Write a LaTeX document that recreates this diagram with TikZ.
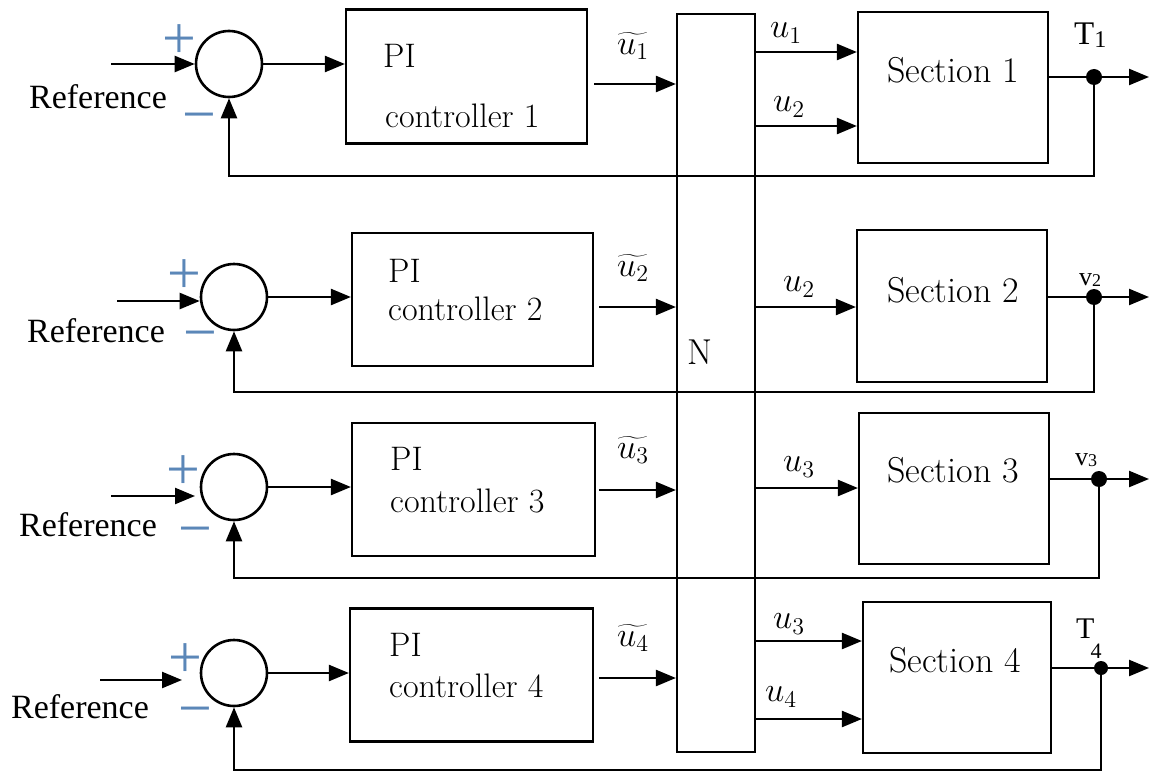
\documentclass[tikz,border=0pt]{standalone}
\usepackage{fontspec}
\newfontfamily\tms{Liberation Serif}
\usetikzlibrary{arrows.meta,calc}
\definecolor{pm}{RGB}{91,135,184}
\begin{document}
\begin{tikzpicture}[x=1pt,y=-1pt,
  box/.style={draw,line width=2.2pt,inner sep=0pt},
  arr/.style={line width=2.4pt,-{Triangle[length=20pt,width=16pt]}},
  sumc/.style={draw,circle,line width=2.6pt,minimum size=66pt,inner sep=0pt},
  dot/.style={fill,circle,inner sep=0pt,minimum size=16pt},
  btxt/.style={font=\fontsize{34}{40}\selectfont,inner sep=0pt,anchor=base west},
  stxt/.style={font=\fontsize{36}{42}\selectfont,inner sep=0pt},
  reftxt/.style={font=\tms\fontsize{34}{40}\selectfont,inner sep=0pt},
  sgn/.style={font=\tms\fontsize{60}{64}\selectfont,text=pm,inner sep=0pt},
  ulab/.style={font=\fontsize{17.28}{20}\selectfont,scale=2.0,inner sep=0pt},
  olab/.style={font=\tms\fontsize{33}{38}\selectfont,inner sep=0pt,anchor=base west},
  vlab/.style={font=\tms\fontsize{26}{30}\selectfont,inner sep=0pt,anchor=base west}
]
\useasboundingbox (0,0) rectangle (1150,773);

% N block
\node[box,minimum width=78pt,minimum height=738pt] (N) at (716,383) {};
\node[stxt] (Nlab) at (700,352) {N};

% PI controller boxes
\node[box,minimum width=241pt,minimum height=134pt] (pi1) at (466.5,76.5) {};
\node[box,minimum width=241pt,minimum height=133pt] (pi2) at (472.5,299.5) {};
\node[box,minimum width=243pt,minimum height=133pt] (pi3) at (473.5,489.5) {};
\node[box,minimum width=243pt,minimum height=133pt] (pi4) at (471.5,675) {};
\node[btxt] (pi1a) at (383,68) {PI};
\node[btxt] (pi1b) at (385,128) {controller 1};
\node[btxt] (pi2a) at (388,282) {PI};
\node[btxt] (pi2b) at (388,320) {controller 2};
\node[btxt] (pi3a) at (390,470) {PI};
\node[btxt] (pi3b) at (390,512) {controller 3};
\node[btxt] (pi4a) at (389,656) {PI};
\node[btxt] (pi4b) at (389,697) {controller 4};

% Section boxes
\node[box,minimum width=190pt,minimum height=151pt] (sec1) at (953,87.5) {};
\node[box,minimum width=190pt,minimum height=152pt] (sec2) at (952,306) {};
\node[box,minimum width=190pt,minimum height=151pt] (sec3) at (954,488.5) {};
\node[box,minimum width=188pt,minimum height=151pt] (sec4) at (957,677.5) {};
\node[stxt] (s1t) at (953,70) {Section 1};
\node[stxt] (s2t) at (953,290) {Section 2};
\node[stxt] (s3t) at (953,470) {Section 3};
\node[stxt] (s4t) at (955,660) {Section 4};

% summing junctions
\node[sumc] (sum1) at (229,64) {};
\node[sumc] (sum2) at (234,297) {};
\node[sumc] (sum3) at (234,487) {};
\node[sumc] (sum4) at (234,673) {};

% signs
\node[sgn] (p1) at (179,42) {+};
\node[sgn] (m1) at (199,124) {−};
\node[sgn] (p2) at (184,277) {+};
\node[sgn] (m2) at (200,342) {−};
\node[sgn] (p3) at (183,473) {+};
\node[sgn] (m3) at (195,538) {−};
\node[sgn] (p4) at (185,661) {+};
\node[sgn] (m4) at (195,718) {−};

% Reference labels
\node[reftxt] (r1) at (98,97) {Reference};
\node[reftxt] (r2) at (96,331) {Reference};
\node[reftxt] (r3) at (88,525) {Reference};
\node[reftxt] (r4) at (80,707) {Reference};

% reference arrows
\coordinate (rs1) at (111,64);
\coordinate (rs2) at (117,301);
\coordinate (rs3) at (111,496);
\coordinate (re3) at (195,496);
\coordinate (rs4) at (100,680);
\coordinate (re4) at (182,680);
\draw[arr] (rs1) -- (sum1.west);
\draw[arr] (rs2) -- (sum2.west |- rs2);
\draw[arr] (rs3) -- (re3);
\draw[arr] (rs4) -- (re4);

% sum -> PI
\draw[arr] (sum1.east) -- (pi1.west |- sum1.east);
\draw[arr] (sum2.east) -- (pi2.west |- sum2.east);
\draw[arr] (sum3.east) -- (pi3.west |- sum3.east);
\draw[arr] (sum4.east) -- (pi4.west |- sum4.east);

% PI -> N
\draw[arr] ([xshift=6pt]pi1.east |- 0,84) -- (N.west |- 0,84);
\draw[arr] ([xshift=5pt]pi2.east |- 0,307) -- (N.west |- 0,307);
\draw[arr] ([xshift=3pt]pi3.east |- 0,490) -- (N.west |- 0,490);
\draw[arr] ([xshift=5pt]pi4.east |- 0,678) -- (N.west |- 0,678);
\node[ulab] (ut1) at (633,46) {$\widetilde{u_1}$};
\node[ulab] (ut2) at (633,268) {$\widetilde{u_2}$};
\node[ulab] (ut3) at (633,450) {$\widetilde{u_3}$};
\node[ulab] (ut4) at (633,638) {$\widetilde{u_4}$};

% N -> sections
\draw[arr] (N.east |- 0,52) -- (sec1.west |- 0,52);
\draw[arr] (N.east |- 0,126) -- (sec1.west |- 0,126);
\draw[arr] (N.east |- 0,307) -- (sec2.west |- 0,307);
\draw[arr] (N.east |- 0,488) -- (sec3.west |- 0,488);
\draw[arr] (N.east |- 0,641) -- (sec4.west |- 0,641);
\draw[arr] (N.east |- 0,719) -- (sec4.west |- 0,719);
\node[ulab] (ua) at (786,33) {$u_1$};
\node[ulab] (ub) at (789,107) {$u_2$};
\node[ulab] (uc) at (799,287) {$u_2$};
\node[ulab] (ud) at (799,467) {$u_3$};
\node[ulab] (ue) at (789,624) {$u_3$};
\node[ulab] (uf) at (781,697) {$u_4$};

% outputs
\node[dot] (d1) at (1094,77) {};
\node[dot] (d2) at (1094,297) {};
\node[dot] (d3) at (1099,479) {};
\node[dot,minimum size=14pt] (d4) at (1101,668) {};
\coordinate (o1) at (1149,77);
\coordinate (o2) at (1149,297);
\coordinate (o3) at (1149,479);
\coordinate (o4) at (1149,668);
\draw[arr] (sec1.east |- o1) -- (o1);
\draw[arr] (sec2.east |- o2) -- (o2);
\draw[arr] (sec3.east |- o3) -- (o3);
\draw[arr] (sec4.east |- o4) -- (o4);

\node[olab] (T1) at (1074,45) {T\raisebox{-3pt}{\fontsize{24}{26}\selectfont 1}};
\node[vlab] (v2) at (1079,285) {v\raisebox{-1pt}{\fontsize{18}{20}\selectfont 2}};
\node[vlab] (v3) at (1075,465) {v\raisebox{-1pt}{\fontsize{18}{20}\selectfont 3}};
\node[olab,font=\tms\fontsize{30}{34}\selectfont] (T4) at (1076,638) {T\kern-4pt\raisebox{-20pt}{\fontsize{22}{24}\selectfont 4}};

% feedback
\coordinate (fb1) at (229,176);
\coordinate (fb2) at (234,392);
\coordinate (fb3) at (234,578);
\coordinate (fb4) at (234,770);
\draw[arr] (d1) |- (fb1) -- (sum1);
\draw[arr] (d2) |- (fb2) -- (sum2);
\draw[arr] (d3) |- (fb3) -- (sum3);
\draw[arr] (d4) |- (fb4) -- (sum4);
\end{tikzpicture}
\end{document}
